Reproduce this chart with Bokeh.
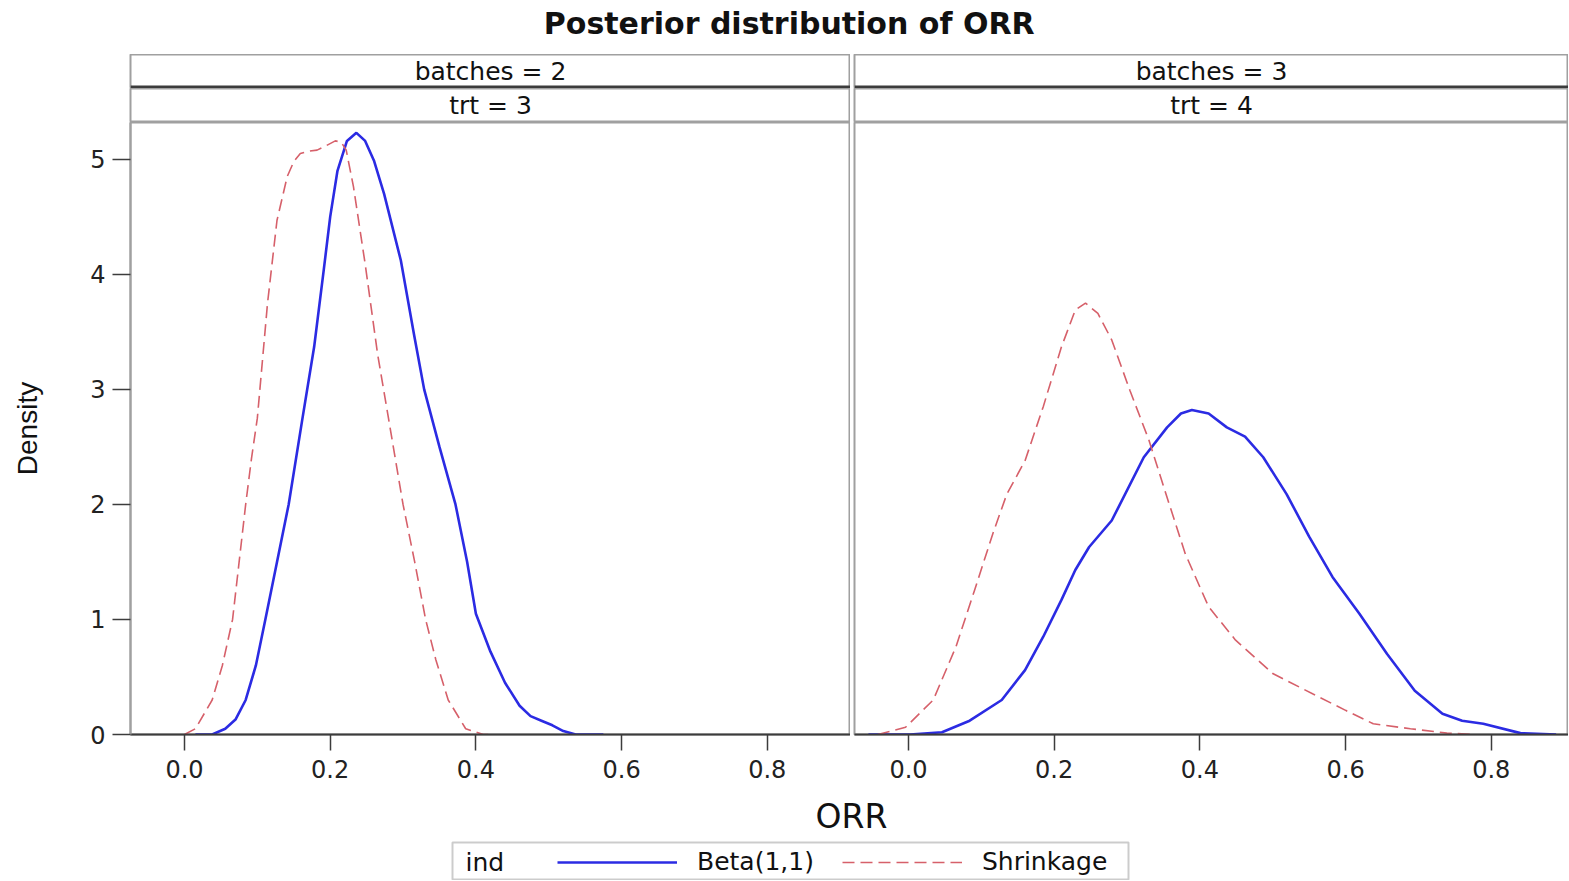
from bokeh.plotting import figure
from bokeh.layouts import column, row
from bokeh.models import (Range1d, FixedTicker, PrintfTickFormatter, Span,
                          BoxAnnotation, Label, Legend, LegendItem)
from bokeh.core.properties import value
from bokeh.embed import file_html
from bokeh.resources import INLINE

# ---------------- data ----------------
TITLE = "Posterior distribution of ORR"
panel_batches = ["batches = 2", "batches = 3"]
panel_trt = ["trt = 3", "trt = 4"]
series_names = ["Beta(1,1)", "Shrinkage"]
legend_title = "ind"
x_label = "ORR"
y_label = "Density"
x_ticks = [0.0, 0.2, 0.4, 0.6, 0.8]
y_ticks = [0, 1, 2, 3, 4, 5]

# panel 1 (batches = 2, trt = 3)
beta_p1_x = [0.015, 0.038, 0.056, 0.070, 0.084, 0.098, 0.111, 0.127, 0.143, 0.162,
             0.178, 0.191, 0.200, 0.210, 0.223, 0.236, 0.248, 0.260, 0.274, 0.297,
             0.315, 0.329, 0.350, 0.372, 0.388, 0.400, 0.420, 0.440, 0.460, 0.475,
             0.490, 0.505, 0.520, 0.537, 0.575]
beta_p1_y = [0.0, 0.0, 0.05, 0.13, 0.30, 0.60, 1.00, 1.50, 2.00, 2.75,
             3.37, 4.03, 4.50, 4.90, 5.16, 5.23, 5.16, 4.99, 4.70, 4.12,
             3.48, 3.00, 2.50, 2.00, 1.50, 1.05, 0.72, 0.45, 0.25, 0.16,
             0.12, 0.08, 0.03, 0.0, 0.0]
shr_p1_x = [0.000, 0.015, 0.038, 0.052, 0.066, 0.075, 0.084, 0.092, 0.100, 0.114,
            0.127, 0.141, 0.150, 0.159, 0.170, 0.182, 0.195, 0.207, 0.215, 0.222,
            0.232, 0.248, 0.265, 0.280, 0.300, 0.316, 0.331, 0.345, 0.362, 0.386,
            0.410, 0.425]
shr_p1_y = [0.0, 0.05, 0.30, 0.60, 1.00, 1.50, 2.00, 2.40, 2.75, 3.75,
            4.47, 4.85, 4.98, 5.05, 5.07, 5.08, 5.12, 5.16, 5.15, 5.08,
            4.76, 4.09, 3.31, 2.75, 2.00, 1.50, 1.00, 0.65, 0.30, 0.05,
            0.0, 0.0]

# panel 2 (batches = 3, trt = 4)
beta_p2_x = [-0.055, 0.002, 0.046, 0.084, 0.128, 0.160, 0.185, 0.210, 0.229, 0.248,
             0.279, 0.323, 0.355, 0.374, 0.389, 0.412, 0.437, 0.462, 0.487, 0.519,
             0.550, 0.582, 0.619, 0.657, 0.695, 0.733, 0.760, 0.789, 0.840, 0.889]
beta_p2_y = [0.0, 0.0, 0.02, 0.12, 0.30, 0.56, 0.85, 1.17, 1.43, 1.63,
             1.86, 2.41, 2.67, 2.79, 2.82, 2.79, 2.67, 2.59, 2.41, 2.09,
             1.72, 1.37, 1.05, 0.70, 0.38, 0.18, 0.12, 0.093, 0.012, 0.0]
shr_p2_x = [-0.042, -0.004, 0.034, 0.065, 0.0905, 0.116, 0.135, 0.160, 0.185, 0.210,
            0.229, 0.243, 0.260, 0.279, 0.304, 0.330, 0.355, 0.380, 0.412, 0.449,
            0.500, 0.556, 0.600, 0.638, 0.689, 0.739, 0.777]
shr_p2_y = [0.0, 0.063, 0.30, 0.76, 1.25, 1.75, 2.09, 2.38, 2.85, 3.37,
            3.69, 3.75, 3.66, 3.43, 2.99, 2.56, 2.06, 1.57, 1.11, 0.82,
            0.53, 0.35, 0.21, 0.093, 0.05, 0.012, 0.0]

panels = [
    (beta_p1_x, beta_p1_y, shr_p1_x, shr_p1_y),
    (beta_p2_x, beta_p2_y, shr_p2_x, shr_p2_y),
]

# ---------------- style ----------------
BLUE = "#2B2BE3"
RED = "#D6606A"
FONT = "DejaVu Sans"
GRAY = "#a0a0a0"
DARK = "#3c3c3c"
TOTAL_W = 1568
LEFT_W, RIGHT_W = 850, 718
LEFT_MB = 130
TITLE_H = 54
HDR_H = 34
PANEL_H = 672
BOT_H = 86

# ---------------- title ----------------
title_fig = figure(width=TOTAL_W, height=TITLE_H, x_range=Range1d(0, 1), y_range=Range1d(0, 1),
                   x_axis_location=None, y_axis_location=None, toolbar_location=None,
                   output_backend="svg", min_border=0)
title_fig.grid.visible = False
title_fig.outline_line_color = None
title_fig.text(x=[0.503], y=[0.57], text=[TITLE], text_align="center", text_baseline="middle",
               text_font=value(FONT), text_font_size="30px", text_font_style="bold",
               text_color="#111111")


# ---------------- headers ----------------
def make_header(width, min_left, txt, dark_bottom):
    h = figure(width=width, height=HDR_H, x_range=Range1d(0, 1), y_range=Range1d(0, 1),
               x_axis_location=None, y_axis_location=None, toolbar_location=None,
               output_backend="svg", min_border_left=min_left, min_border_right=0,
               min_border_top=0, min_border_bottom=0)
    h.grid.visible = False
    h.outline_line_color = GRAY
    h.outline_line_width = 2
    h.text(x=[0.5], y=[0.5], text=[txt], text_align="center", text_baseline="middle",
           text_font=value(FONT), text_font_size="25px", text_color="#111111")
    if dark_bottom:
        h.add_layout(Span(location=0.045, dimension="width", line_color=DARK, line_width=3))
    return h


hdr1 = row(make_header(LEFT_W, LEFT_MB, panel_batches[0], True),
           make_header(RIGHT_W, 4, panel_batches[1], True))
hdr2 = row(make_header(LEFT_W, LEFT_MB, panel_trt[0], False),
           make_header(RIGHT_W, 4, panel_trt[1], False))


# ---------------- panels ----------------
def make_panel(idx, width, min_left, x_end, show_y):
    bx, by, sx, sy = panels[idx]
    p = figure(width=width, height=PANEL_H, x_range=Range1d(-0.0741, x_end), y_range=Range1d(0, 5.32),
               toolbar_location=None, output_backend="svg",
               y_axis_location="left" if show_y else None,
               min_border_left=min_left, min_border_right=0, min_border_top=0,
               min_border_bottom=60)
    p.grid.visible = False
    p.outline_line_color = GRAY
    p.outline_line_width = 2
    p.line(bx, by, line_color=BLUE, line_width=2.6)
    p.line(sx, sy, line_color=RED, line_width=1.6, line_dash="12 6")

    ax = p.xaxis[0]
    ax.ticker = FixedTicker(ticks=x_ticks)
    ax.formatter = PrintfTickFormatter(format="%.1f")
    ax.axis_line_color = DARK
    ax.axis_line_width = 2
    ax.major_tick_line_color = DARK
    ax.major_tick_line_width = 1.5
    ax.major_tick_in = 0
    ax.major_tick_out = 16
    ax.minor_tick_line_color = None
    ax.major_label_standoff = 9
    ax.major_label_text_font = FONT
    ax.major_label_text_font_size = "24px"
    ax.major_label_text_color = "#222222"

    if show_y:
        ay = p.yaxis[0]
        ay.ticker = FixedTicker(ticks=y_ticks)
        ay.axis_line_color = GRAY
        ay.axis_line_width = 2
        ay.major_tick_line_color = DARK
        ay.major_tick_line_width = 1.5
        ay.major_tick_in = 0
        ay.major_tick_out = 18
        ay.minor_tick_line_color = None
        ay.major_label_standoff = 7
        ay.major_label_text_font = FONT
        ay.major_label_text_font_size = "24px"
        ay.major_label_text_color = "#222222"
        ay.axis_label = y_label
        ay.axis_label_text_font = "Liberation Sans"
        ay.axis_label_text_font_size = "28px"
        ay.axis_label_text_font_style = "normal"
        ay.axis_label_text_color = "#111111"
        ay.axis_label_standoff = 44
    return p


pL = make_panel(0, LEFT_W, LEFT_MB, 0.9142, True)
pR = make_panel(1, RIGHT_W, 4, 0.906, False)

# ---------------- bottom: x label + legend ----------------
bottom = figure(width=TOTAL_W, height=BOT_H, x_range=Range1d(0, TOTAL_W), y_range=Range1d(0, BOT_H),
                x_axis_location=None, y_axis_location=None, toolbar_location=None,
                output_backend="svg", min_border=0)
bottom.grid.visible = False
bottom.outline_line_color = None
bottom.add_layout(Label(x=851, y=64, text=x_label, text_align="center", text_baseline="middle",
                        text_font=FONT, text_font_size="33px", text_color="#111111"))

nan = float("nan")
r_beta = bottom.line(x=[nan], y=[nan], line_color=BLUE, line_width=2.6)
r_shr = bottom.line(x=[nan], y=[nan], line_color=RED, line_width=1.6, line_dash="12 6")
bottom.add_layout(BoxAnnotation(left=452, right=1128, bottom=1, top=38, fill_color=None,
                                line_color="#555555", line_width=2))
bottom.add_layout(Label(x=465, y=18, text=legend_title, text_align="left", text_baseline="middle",
                        text_font=FONT, text_font_size="25px", text_color="#111111"))
legend = Legend(items=[LegendItem(label=series_names[0], renderers=[r_beta]),
                       LegendItem(label=series_names[1], renderers=[r_shr])],
                orientation="horizontal", location=(557, 4), padding=0, margin=0,
                spacing=28, label_standoff=20, glyph_width=120, glyph_height=28,
                label_height=28, border_line_alpha=0, background_fill_alpha=0,
                label_text_font=FONT, label_text_font_size="25px",
                label_text_color="#111111")
bottom.add_layout(legend)

layout = column(title_fig, hdr1, hdr2, row(pL, pR), bottom)

open("out.html", "w").write(file_html(layout, INLINE))
